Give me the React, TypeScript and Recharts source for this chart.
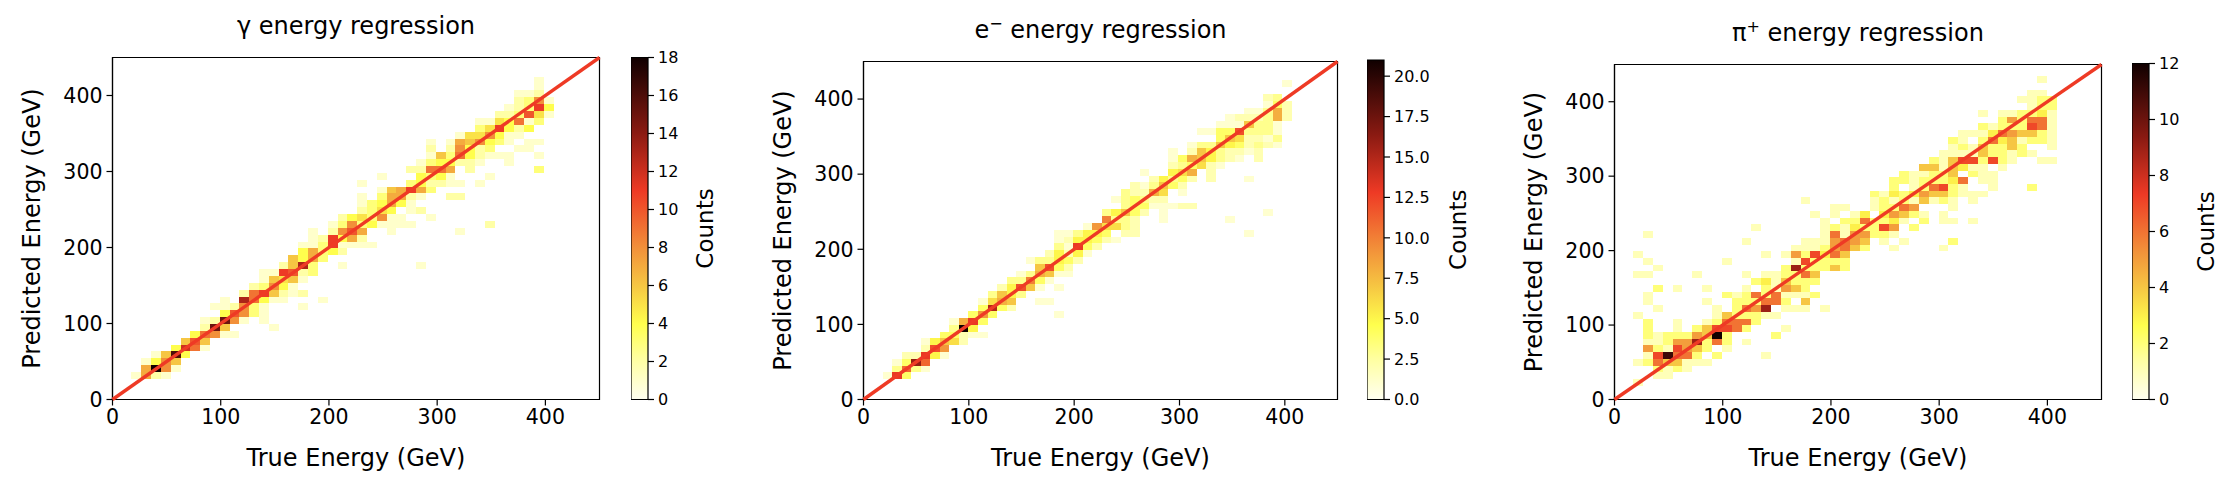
import React from "react";
import {
  Bar,
  BarChart,
  ReferenceArea,
  Scatter,
  ScatterChart,
  XAxis,
  YAxis,
} from "recharts";

const FONT = '"DejaVu Sans", sans-serif';
const PAGE_H = 479;

// 2d histogram rows, bottom row first: [first column, counts from that column on]
const gammaRows: number[][] = [
  [0, 1, 7, 2, 1],
  [1, 7, 18, 8, 1],
  [1, 1, 4, 8, 6],
  [2, 1, 6, 16, 4],
  [4, 4, 12, 9, 1],
  [5, 6, 10, 6],
  [6, 4, 9, 8, 1, 1],
  [7, 2, 15, 6, 0, 0, 0, 0, 1],
  [7, 1, 2, 15, 8, 1, 0, 1],
  [9, 4, 10, 8, 3, 1],
  [8, 1, 1, 2, 8, 3, 1, 0, 0, 0, 1],
  [9, 1, 0, 13, 9, 4, 1, 1, 0, 0, 0, 1],
  [11, 2, 9, 11, 6, 2, 1, 2],
  [12, 2, 3, 8, 4, 1],
  [13, 1, 6, 5, 6, 1],
  [13, 1, 1, 11, 10, 2, 3],
  [15, 2, 6, 13, 3, 0, 0, 1, 0, 0, 0, 0, 0, 0, 0, 1],
  [16, 6, 4, 7, 3],
  [17, 4, 7, 3, 4, 2],
  [17, 1, 1, 3, 11, 1, 1, 1, 1],
  [18, 1, 2, 11, 4, 7, 2],
  [18, 1, 0, 2, 8, 10, 7, 0, 0, 1, 0, 0, 0, 0, 0, 0, 1],
  [20, 1, 3, 8, 3, 4, 1, 1, 1, 1, 0, 0, 0, 0, 0, 0, 0, 2],
  [21, 2, 4, 5, 3, 8, 1, 1, 0, 0, 1],
  [23, 2, 3, 5, 4, 0, 1, 2],
  [23, 1, 3, 4, 7, 4, 1],
  [23, 1, 0, 3, 7, 7, 2, 1, 0, 0, 2, 2],
  [25, 1, 6, 7, 11, 7, 3],
  [23, 1, 0, 0, 0, 0, 3, 4, 2, 2, 1, 1, 0, 1],
  [25, 1, 0, 0, 0, 4, 3, 4, 1, 0, 0, 0, 1],
  [28, 2, 2, 9, 9, 7, 0, 2, 0, 0, 0, 0, 0, 0, 3],
  [29, 1, 3, 4, 4, 2, 2, 1, 0, 0, 1],
  [30, 1, 6, 3, 9, 4, 2, 1, 1, 1, 0, 0, 1],
  [30, 2, 0, 2, 8, 4, 2, 3, 0, 0, 1, 1],
  [30, 1, 0, 1, 7, 6, 8, 4, 3, 1, 0, 1, 1],
  [33, 1, 5, 5, 8, 4, 1, 1],
  [35, 3, 5, 11, 4, 2, 4],
  [35, 1, 1, 5, 4, 9, 1, 3],
  [37, 2, 2, 3, 10, 5, 1],
  [38, 1, 2, 3, 11, 4],
  [39, 2, 3, 8, 1],
  [39, 1, 1, 2],
  [41, 1],
  [41, 1],
];

const electronRows: number[][] = [
  [0, 1, 13, 4],
  [1, 3, 11, 3, 1],
  [1, 1, 4, 16, 11],
  [2, 2, 2, 13, 5, 1],
  [4, 2, 12, 9],
  [4, 1, 5, 7, 6, 2],
  [6, 4, 4, 2, 1, 1],
  [7, 3, 21, 5],
  [7, 1, 8, 13, 4],
  [9, 4, 9, 4, 0, 0, 0, 0, 0, 0, 1],
  [10, 4, 15, 4, 2],
  [10, 1, 6, 8, 7, 0, 0, 1, 1],
  [11, 3, 7, 5, 3],
  [12, 2, 5, 12, 7, 1, 0, 1],
  [13, 3, 3, 10, 4, 1],
  [14, 1, 3, 8, 7, 1, 1],
  [16, 7, 12, 4, 2],
  [15, 1, 3, 3, 5, 4, 2],
  [17, 2, 5, 2, 5, 1],
  [18, 3, 1, 13, 4, 2],
  [18, 1, 2, 5, 5, 4, 2, 1],
  [18, 1, 1, 3, 5, 5, 4, 0, 2, 2, 0, 0, 0, 0, 0, 0, 0, 0, 0, 0, 0, 1],
  [21, 1, 9, 6, 6, 3, 2],
  [23, 10, 3, 3, 2, 0, 0, 1, 0, 0, 0, 0, 0, 0, 1],
  [23, 3, 5, 7, 4, 2, 0, 1, 0, 0, 0, 0, 0, 0, 0, 0, 0, 0, 1],
  [25, 3, 4, 4, 1, 1, 1, 2, 2],
  [24, 1, 3, 4, 3, 2, 2],
  [25, 3, 2, 2, 8, 6, 0, 1],
  [26, 2, 1, 3, 7, 4, 2],
  [28, 2, 5, 3, 4, 2, 0, 2, 0, 0, 0, 1],
  [27, 1, 0, 0, 5, 6, 8, 0, 2],
  [30, 2, 3, 4, 6, 2, 1],
  [30, 1, 4, 8, 7, 5, 3, 2, 1, 0, 2],
  [30, 1, 0, 2, 7, 5, 3, 2, 2, 1, 2],
  [32, 1, 3, 3, 7, 5, 4, 2, 3, 2, 1],
  [35, 4, 7, 6, 2, 2, 1, 3],
  [33, 1, 1, 4, 4, 12, 3, 3, 3, 1],
  [35, 1, 1, 1, 7, 3, 3, 1],
  [36, 1, 2, 2, 2, 3, 8, 2],
  [38, 1, 1, 3, 8, 2],
  [40, 1, 4, 2],
  [40, 2, 3],
  [0],
  [42, 1],
];

const pionRows: number[][] = [
  [0, 1],
  [2, 1, 1],
  [2, 2, 1, 2, 1],
  [0, 1, 2, 6, 4, 4, 1, 1, 1],
  [1, 1, 7, 11, 6, 6, 2, 0, 2, 0, 0, 0, 0, 1],
  [1, 5, 2, 1, 7, 5, 4, 2, 0, 1],
  [1, 1, 1, 2, 5, 5, 9, 2, 6, 2, 0, 1],
  [1, 2, 1, 2, 2, 2, 5, 4, 12, 2, 0, 0, 0, 0, 2],
  [1, 2, 0, 0, 1, 0, 2, 4, 7, 7, 6, 2, 0, 0, 0, 1],
  [1, 2, 0, 0, 1, 0, 0, 1, 2, 6, 6, 6, 2],
  [0, 1, 0, 0, 0, 0, 0, 0, 0, 1, 4, 2, 2, 2, 1, 1],
  [2, 1, 0, 0, 0, 0, 0, 1, 0, 2, 6, 5, 9, 0, 1, 1, 1, 0, 1],
  [1, 1, 0, 0, 0, 0, 0, 1, 0, 0, 2, 2, 2, 6, 6, 2, 0, 4],
  [1, 1, 0, 0, 0, 0, 0, 0, 0, 2, 1, 2, 6, 2, 6, 1, 1, 1, 2],
  [2, 2, 0, 1, 0, 0, 1, 0, 0, 0, 1, 0, 2, 1, 5, 4, 2],
  [12, 2, 3, 1, 4, 2, 2, 2],
  [0, 1, 1, 0, 0, 0, 0, 1, 0, 0, 0, 0, 1, 0, 1, 1, 2, 2, 6, 4],
  [2, 1, 0, 0, 0, 0, 0, 0, 0, 0, 0, 0, 0, 0, 2, 9, 2, 2, 2, 4, 2],
  [1, 1, 0, 0, 0, 0, 0, 0, 0, 1, 0, 0, 0, 0, 0, 0, 1, 7, 2, 2, 2, 2],
  [0, 1, 0, 0, 0, 0, 0, 0, 0, 0, 0, 0, 0, 0, 1, 0, 1, 5, 2, 7, 3, 6, 4],
  [16, 1, 1, 1, 2, 5, 6, 4, 2, 0, 0, 1, 0, 0, 0, 0, 1],
  [11, 1, 0, 0, 0, 0, 0, 1, 1, 1, 5, 6, 5, 4, 0, 1, 0, 1, 0, 0, 0, 0, 2],
  [1, 1, 0, 0, 0, 0, 0, 0, 0, 0, 0, 0, 0, 0, 0, 0, 0, 0, 0, 1, 6, 1, 5, 5, 2, 2, 1],
  [12, 1, 0, 0, 0, 0, 0, 0, 1, 2, 1, 3, 2, 2, 7, 5, 0, 2],
  [19, 1, 0, 2, 2, 6, 2, 2, 3, 1, 0, 2, 0, 1, 1, 0, 1],
  [18, 1, 0, 1, 0, 1, 3, 0, 3, 5, 4, 2, 1, 0, 1],
  [20, 1, 1, 0, 0, 1, 2, 2, 6, 5, 0, 0, 0, 1],
  [17, 1, 0, 0, 0, 0, 0, 0, 1, 2, 1, 2, 1, 4, 1, 2, 1, 0, 1],
  [24, 2, 1, 3, 2, 3, 5, 4, 4, 2, 1, 1, 1],
  [26, 2, 0, 1, 2, 6, 7, 2, 1, 0, 0, 1, 0, 0, 0, 2],
  [26, 2, 2, 1, 2, 2, 2, 3, 6, 0, 1, 1],
  [27, 2, 1, 1, 2, 2, 4, 0, 2, 1, 1],
  [29, 4, 4, 1, 4, 3, 1, 1, 0, 1],
  [30, 2, 1, 4, 7, 7, 2, 7, 2, 1, 0, 0, 1, 1],
  [31, 1, 1, 1, 1, 4, 2, 2, 1, 2, 1],
  [32, 1, 2, 1, 4, 2, 2, 4, 2, 0, 0, 1],
  [32, 2, 1, 0, 2, 6, 3, 4, 1, 2, 2, 1],
  [33, 1, 1, 1, 3, 6, 5, 4, 4, 2, 1],
  [35, 2, 1, 2, 2, 2, 7, 6, 1],
  [37, 2, 5, 2, 6, 6, 1],
  [35, 1, 0, 1, 1, 2, 2, 3, 1],
  [40, 1, 2, 2],
  [39, 1, 1, 2, 2],
  [40, 1, 1],
  [0],
  [41, 1],
];

const energyTicks = [0, 100, 200, 300, 400];
const diagonal = [
  { x: 0, y: 0 },
  { x: 450, y: 450 },
];
const gammaBarTicks = [0, 2, 4, 6, 8, 10, 12, 14, 16, 18];
const electronBarTicks = [0, 2.5, 5, 7.5, 10, 12.5, 15, 17.5, 20];
const pionBarTicks = [0, 2, 4, 6, 8, 10, 12];

// colormap stops: [fraction of the colorbar, colour]
const colormap: [number, number[]][] = [
  [0, [255, 255, 240]],
  [0.12, [255, 255, 160]],
  [0.22, [255, 255, 77]],
  [0.33, [246, 200, 67]],
  [0.44, [242, 146, 58]],
  [0.61, [238, 58, 37]],
  [0.78, [138, 26, 18]],
  [1, [16, 0, 0]],
];

function colorAt(t: number) {
  for (let i = 1; i < colormap.length; i++) {
    const [t1, c1] = colormap[i];
    const [t0, c0] = colormap[i - 1];
    if (t <= t1) {
      const f = (t - t0) / (t1 - t0);
      const m = c0.map((v, k) => Math.round(v + (c1[k] - v) * f));
      return `rgb(${m[0]},${m[1]},${m[2]})`;
    }
  }
  return "rgb(16,0,0)";
}

type Cell = { x: number; y: number; count: number };

function toCells(rows: number[][], xStart: number, yStart: number, bin: number[]): Cell[] {
  const cells: Cell[] = [];
  rows.forEach((row, j) => {
    row.slice(1).forEach((count, k) => {
      if (count > 0) {
        cells.push({
          x: xStart + (row[0] + k + 0.5) * bin[0],
          y: yStart + (j + 0.5) * bin[1],
          count,
        });
      }
    });
  });
  return cells;
}

type PanelProps = {
  left: number;
  width: number;
  plot: { x0: number; x1: number; y0: number; y1: number };
  rows: number[][];
  start: number[];
  bin: number[];
  vmax: number;
  title: React.ReactNode;
  titleY: number;
  yLabelX: number;
};

function Panel({ left, width, plot, rows, start, bin, vmax, title, titleY, yLabelX }: PanelProps) {
  const yAxisW = 60;
  const xAxisH = 40;
  const pxX = (plot.x1 - plot.x0) / 450;
  const pxY = (plot.y1 - plot.y0) / 450;
  const cells = toCells(rows, start[0], start[1], bin);
  const cx = (plot.x0 + plot.x1) / 2 - left;
  const cy = (plot.y0 + plot.y1) / 2;
  const tickStyle = { fontSize: 20.5, fill: "#000", fontFamily: FONT };

  const drawCell = (p: any) => (
    <rect
      x={p.cx - (bin[0] * pxX) / 2}
      y={p.cy - (bin[1] * pxY) / 2}
      width={bin[0] * pxX}
      height={bin[1] * pxY}
      fill={colorAt(p.payload.count / vmax)}
      shapeRendering="crispEdges"
    />
  );

  return (
    <div style={{ position: "absolute", left, top: 0 }}>
      <ScatterChart
        width={width}
        height={PAGE_H}
        margin={{
          left: plot.x0 - left - yAxisW,
          right: left + width - plot.x1,
          top: plot.y0,
          bottom: PAGE_H - plot.y1 - xAxisH,
        }}
      >
        <XAxis
          type="number"
          dataKey="x"
          domain={[0, 450]}
          ticks={energyTicks}
          height={xAxisH}
          tick={tickStyle}
          tickSize={6}
          tickMargin={4}
          tickLine={{ stroke: "#000", strokeWidth: 1.2 }}
          axisLine={{ stroke: "#000", strokeWidth: 1.2 }}
          interval={0}
        />
        <YAxis
          type="number"
          dataKey="y"
          domain={[0, 450]}
          ticks={energyTicks}
          width={yAxisW}
          tick={tickStyle}
          tickSize={6}
          tickMargin={4}
          tickLine={{ stroke: "#000", strokeWidth: 1.2 }}
          axisLine={{ stroke: "#000", strokeWidth: 1.2 }}
          interval={0}
        />
        <ReferenceArea x1={0} x2={450} y1={0} y2={450} fill="none" stroke="#000" strokeWidth={1.2} />
        <Scatter data={cells} shape={drawCell} isAnimationActive={false} />
        <Scatter
          data={diagonal}
          line={{ stroke: "#ee3a25", strokeWidth: 3.4 }}
          shape={() => <g />}
          isAnimationActive={false}
        />
        <text x={cx} y={titleY} textAnchor="middle" fontSize={24} fontFamily={FONT} fill="#000">
          {title}
        </text>
        <text x={cx} y={466} textAnchor="middle" fontSize={24} fontFamily={FONT} fill="#000">
          True Energy (GeV)
        </text>
        <text
          x={yLabelX}
          y={cy}
          textAnchor="middle"
          fontSize={24}
          fontFamily={FONT}
          fill="#000"
          transform={`rotate(-90 ${yLabelX} ${cy})`}
        >
          Predicted Energy (GeV)
        </text>
      </ScatterChart>
    </div>
  );
}

type ColorBarProps = {
  id: string;
  left: number;
  top: number;
  bottom: number;
  vmax: number;
  ticks: number[];
  decimals: number;
  labelX: number;
};

function ColorBar({ id, left, top, bottom, vmax, ticks, decimals, labelX }: ColorBarProps) {
  const barW = 17;
  const axisW = 66;
  const cy = (top + bottom) / 2;
  return (
    <div style={{ position: "absolute", left, top: 0 }}>
      <BarChart
        width={barW + axisW}
        height={PAGE_H}
        data={[{ name: "counts", value: vmax }]}
        margin={{ left: 0, right: 0, top, bottom: PAGE_H - bottom }}
        barCategoryGap={0}
      >
        <defs>
          <linearGradient id={id} x1="0" y1="1" x2="0" y2="0">
            {colormap.map(([t, c]) => (
              <stop key={t} offset={t} stopColor={`rgb(${c[0]},${c[1]},${c[2]})`} />
            ))}
          </linearGradient>
        </defs>
        <XAxis dataKey="name" hide />
        <YAxis
          orientation="right"
          type="number"
          domain={[0, vmax]}
          ticks={ticks}
          width={axisW}
          tick={{ fontSize: 16, fill: "#000", fontFamily: FONT }}
          tickFormatter={(v: number) => v.toFixed(decimals)}
          tickSize={6}
          tickMargin={4}
          tickLine={{ stroke: "#000", strokeWidth: 1.2 }}
          axisLine={false}
          interval={0}
        />
        <Bar dataKey="value" fill={`url(#${id})`} stroke="#000" strokeWidth={1.2} isAnimationActive={false} />
      </BarChart>
      <svg
        width={200}
        height={PAGE_H}
        style={{ position: "absolute", left: 0, top: 0, overflow: "visible", pointerEvents: "none" }}
      >
        <text
          x={labelX - left}
          y={cy}
          textAnchor="middle"
          fontSize={23}
          fontFamily={FONT}
          fill="#000"
          transform={`rotate(-90 ${labelX - left} ${cy})`}
        >
          Counts
        </text>
      </svg>
    </div>
  );
}

const superscript = { fontSize: 16, dy: -9 };

export default function App() {
  return (
    <div style={{ position: "absolute", left: 0, top: 0, width: 2232, height: PAGE_H, background: "#fff", overflow: "hidden" }}>
      <Panel
        left={0}
        width={620}
        plot={{ x0: 112.5, x1: 599.5, y0: 57.5, y1: 399.5 }}
        rows={gammaRows}
        start={[17.5, 27]}
        bin={[9.07, 9.04]}
        vmax={18}
        title="γ energy regression"
        titleY={34}
        yLabelX={40}
      />
      <ColorBar id="cbGamma" left={631} top={57.5} bottom={399.5} vmax={18} ticks={gammaBarTicks} decimals={0} labelX={713} />
      <Panel
        left={744}
        width={610}
        plot={{ x0: 863.5, x1: 1337.5, y0: 61.5, y1: 399.5 }}
        rows={electronRows}
        start={[18.4, 27]}
        bin={[9.03, 9.04]}
        vmax={21}
        title={
          <>
            e<tspan {...superscript}>−</tspan>
            <tspan dy={9}> energy regression</tspan>
          </>
        }
        titleY={38}
        yLabelX={47}
      />
      <ColorBar id="cbElectron" left={1367} top={60} bottom={399.5} vmax={21} ticks={electronBarTicks} decimals={1} labelX={1466} />
      <Panel
        left={1488}
        width={630}
        plot={{ x0: 1614.5, x1: 2101.5, y0: 64.5, y1: 399.5 }}
        rows={pionRows}
        start={[17.3, 18.3]}
        bin={[9.1, 9.04]}
        vmax={12}
        title={
          <>
            π<tspan {...superscript}>+</tspan>
            <tspan dy={9}> energy regression</tspan>
          </>
        }
        titleY={41}
        yLabelX={54}
      />
      <ColorBar id="cbPion" left={2132} top={63.5} bottom={399.5} vmax={12} ticks={pionBarTicks} decimals={0} labelX={2214} />
    </div>
  );
}
